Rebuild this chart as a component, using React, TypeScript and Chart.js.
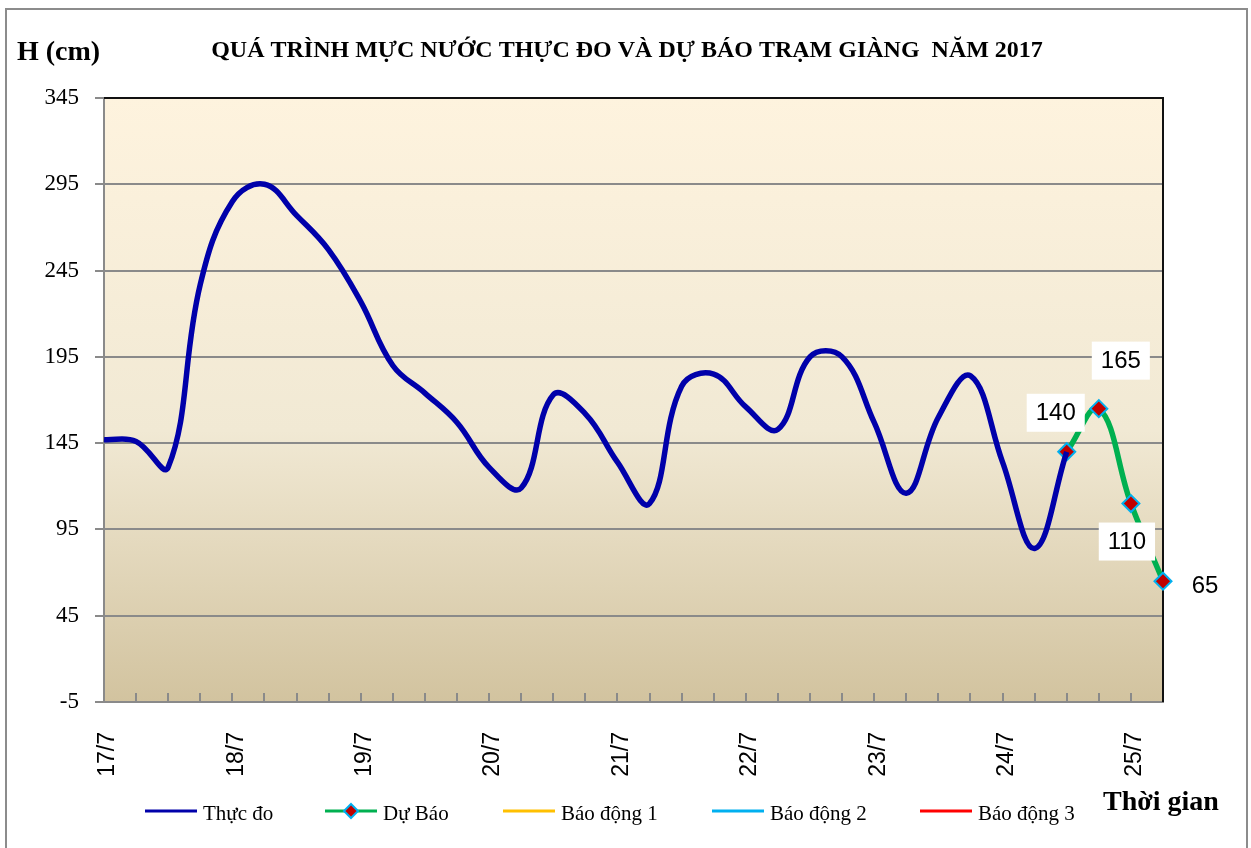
import React, { useEffect, useRef } from 'react';
import { Chart, registerables } from 'chart.js';

Chart.register(...registerables);

// ---- data ----
const dayLabels = ['17/7', '18/7', '19/7', '20/7', '21/7', '22/7', '23/7', '24/7', '25/7'];
const stepsPerDay = 4; // 6-hourly observations
const observed = [
  147, 146, 131, 237, 285, 295, 277, 257, 227, 190, 174, 157, 131, 119, 173, 162,
  134, 110, 178, 185, 166, 153, 195, 195, 157, 116, 160, 184, 134, 84, 140,
];
const forecast = [140, 165, 110, 65];
const forecastStart = 30;
const yTicks = [-5, 45, 95, 145, 195, 245, 295, 345];
const seriesNames = ['Thực đo', 'Dự Báo', 'Báo động 1', 'Báo động 2', 'Báo động 3'];

const totalPoints = forecastStart + forecast.length;
const categories: string[] = Array.from({ length: totalPoints }, (_, i) =>
  i % stepsPerDay === 0 ? dayLabels[i / stepsPerDay] ?? '' : ''
);
const observedSeries = categories.map((_, i) => (i < observed.length ? observed[i] : null));
const forecastSeries = categories.map((_, i) =>
  i >= forecastStart && i - forecastStart < forecast.length ? forecast[i - forecastStart] : null
);
const emptySeries = categories.map(() => null);

// ---- styles ----
const COLORS = {
  observed: '#0000AA',
  forecast: '#00B050',
  marker: '#C00000',
  markerBorder: '#00B0F0',
  alarm1: '#FFC000',
  alarm2: '#00B0F0',
  alarm3: '#FF0000',
  grid: '#8a8a8a',
};
const labelOffsets = [
  { dx: -11, dy: -39 },
  { dx: 22, dy: -48 },
  { dx: -4, dy: 38 },
  { dx: 42, dy: 4 },
];
const legendStarts = [145, 325, 503, 712, 920];

const backgroundPlugin = {
  id: 'bgGradient',
  beforeDraw(chart: any) {
    const { ctx, chartArea: a } = chart;
    const g = ctx.createLinearGradient(0, a.top, 0, a.bottom);
    g.addColorStop(0, '#FEF3DE');
    g.addColorStop(0.55, '#F1E9D4');
    g.addColorStop(1, '#D2C39F');
    ctx.save();
    ctx.fillStyle = g;
    ctx.fillRect(a.left, a.top, a.right - a.left, a.bottom - a.top);
    ctx.restore();
  },
};

const framePlugin = {
  id: 'frame',
  beforeDatasetsDraw(chart: any) {
    const { ctx, chartArea: a, scales } = chart;
    ctx.save();
    ctx.strokeStyle = COLORS.grid;
    ctx.lineWidth = 2;
    const xs = scales.x;
    for (let i = 1; i < totalPoints; i++) {
      const x = Math.round(xs.getPixelForValue(i));
      ctx.beginPath();
      ctx.moveTo(x, a.bottom);
      ctx.lineTo(x, a.bottom - 9);
      ctx.stroke();
    }
    ctx.strokeStyle = '#111';
    ctx.lineWidth = 2;
    ctx.beginPath();
    ctx.moveTo(a.left, a.top);
    ctx.lineTo(a.right, a.top);
    ctx.lineTo(a.right, a.bottom);
    ctx.stroke();
    ctx.restore();
  },
};

const labelPlugin = {
  id: 'pointLabels',
  afterDatasetsDraw(chart: any) {
    const { ctx } = chart;
    const meta = chart.getDatasetMeta(1);
    ctx.save();
    ctx.font = '24px "Liberation Sans", Arial, sans-serif';
    ctx.textAlign = 'center';
    ctx.textBaseline = 'middle';
    forecast.forEach((v, k) => {
      const el = meta.data[forecastStart + k];
      if (!el) return;
      const off = labelOffsets[k];
      const cx = el.x + off.dx;
      const cy = el.y + off.dy;
      const text = String(v);
      const w = ctx.measureText(text).width + 18;
      const h = 38;
      ctx.fillStyle = '#FFFFFF';
      ctx.fillRect(cx - w / 2, cy - h / 2, w, h);
      ctx.fillStyle = '#000';
      ctx.fillText(text, cx, cy + 1);
    });
    ctx.restore();
  },
};

const textPlugin = {
  id: 'texts',
  afterDraw(chart: any) {
    const { ctx } = chart;
    ctx.save();
    ctx.strokeStyle = '#8c8c8c';
    ctx.lineWidth = 2;
    ctx.strokeRect(6, 9, 1241, 850);

    ctx.fillStyle = '#000';
    ctx.textBaseline = 'alphabetic';
    ctx.textAlign = 'left';
    ctx.font = 'bold 28px "Liberation Serif", "Times New Roman", serif';
    ctx.fillText('H (cm)', 17, 60);
    ctx.fillText('Thời gian', 1103, 810);

    ctx.textAlign = 'center';
    ctx.font = 'bold 24px "Liberation Serif", "Times New Roman", serif';
    ctx.fillText('QUÁ TRÌNH MỰC NƯỚC THỰC ĐO VÀ DỰ BÁO TRẠM GIÀNG  NĂM 2017', 627, 57);

    ctx.textAlign = 'left';
    ctx.font = '21px "Liberation Serif", "Times New Roman", serif';
    const legendY = 811;
    chart.data.datasets.forEach((ds: any, i: number) => {
      const x0 = legendStarts[i];
      ctx.strokeStyle = ds.borderColor;
      ctx.lineWidth = 3;
      ctx.beginPath();
      ctx.moveTo(x0, legendY);
      ctx.lineTo(x0 + 52, legendY);
      ctx.stroke();
      if (i === 1) {
        const mx = x0 + 26;
        const r = 7;
        ctx.beginPath();
        ctx.moveTo(mx, legendY - r);
        ctx.lineTo(mx + r, legendY);
        ctx.lineTo(mx, legendY + r);
        ctx.lineTo(mx - r, legendY);
        ctx.closePath();
        ctx.fillStyle = COLORS.marker;
        ctx.fill();
        ctx.strokeStyle = COLORS.markerBorder;
        ctx.lineWidth = 2;
        ctx.stroke();
      }
      ctx.fillStyle = '#000';
      ctx.fillText(ds.label, x0 + 58, legendY + 9);
    });
    ctx.restore();
  },
};

export default function App() {
  const ref = useRef<HTMLCanvasElement | null>(null);

  useEffect(() => {
    if (!ref.current) return;
    const chart = new Chart(ref.current, {
      type: 'line',
      data: {
        labels: categories,
        datasets: [
          {
            label: seriesNames[0],
            data: observedSeries,
            borderColor: COLORS.observed,
            borderWidth: 5.5,
            pointRadius: 0,
            tension: 0.4,
            fill: false,
          },
          {
            label: seriesNames[1],
            data: forecastSeries,
            borderColor: COLORS.forecast,
            borderWidth: 5.5,
            pointStyle: 'rectRot',
            pointRadius: 8.5,
            pointBackgroundColor: COLORS.marker,
            pointBorderColor: COLORS.markerBorder,
            pointBorderWidth: 2,
            tension: 0.4,
            fill: false,
          },
          { label: seriesNames[2], data: emptySeries, borderColor: COLORS.alarm1, borderWidth: 3, pointRadius: 0 },
          { label: seriesNames[3], data: emptySeries, borderColor: COLORS.alarm2, borderWidth: 3, pointRadius: 0 },
          { label: seriesNames[4], data: emptySeries, borderColor: COLORS.alarm3, borderWidth: 3, pointRadius: 0 },
        ],
      },
      options: {
        responsive: false,
        animation: false,
        layout: { padding: { left: 0, top: 98, right: 88, bottom: 0 } },
        plugins: { legend: { display: false }, tooltip: { enabled: false }, title: { display: false } },
        scales: {
          x: {
            type: 'category',
            offset: false,
            grid: { display: false, drawTicks: false },
            border: { display: true, color: COLORS.grid, width: 2 },
            ticks: {
              autoSkip: false,
              minRotation: 90,
              maxRotation: 90,
              padding: 30,
              labelOffset: 4,
              color: '#000',
              font: { family: '"Liberation Sans", Arial, sans-serif', size: 23 },
            },
            afterFit(scale: any) {
              scale.height = 146;
            },
          },
          y: {
            min: yTicks[0],
            max: yTicks[yTicks.length - 1],
            afterBuildTicks(scale: any) {
              scale.ticks = yTicks.map((v) => ({ value: v }));
            },
            grid: { color: COLORS.grid, lineWidth: 2, tickLength: 9, drawTicks: true },
            border: { display: true, color: COLORS.grid, width: 2 },
            ticks: {
              padding: 16,
              color: '#000',
              font: { family: '"Liberation Serif", "Times New Roman", serif', size: 23 },
            },
            afterFit(scale: any) {
              scale.width = 104;
            },
          },
        },
      } as any,
      plugins: [backgroundPlugin, framePlugin, labelPlugin, textPlugin],
    });
    return () => chart.destroy();
  }, []);

  return (
    <div style={{ position: 'fixed', left: 0, top: 0, width: 1251, height: 848, background: '#fff' }}>
      <canvas ref={ref} width={1251} height={848} style={{ display: 'block', width: 1251, height: 848 }} />
    </div>
  );
}
